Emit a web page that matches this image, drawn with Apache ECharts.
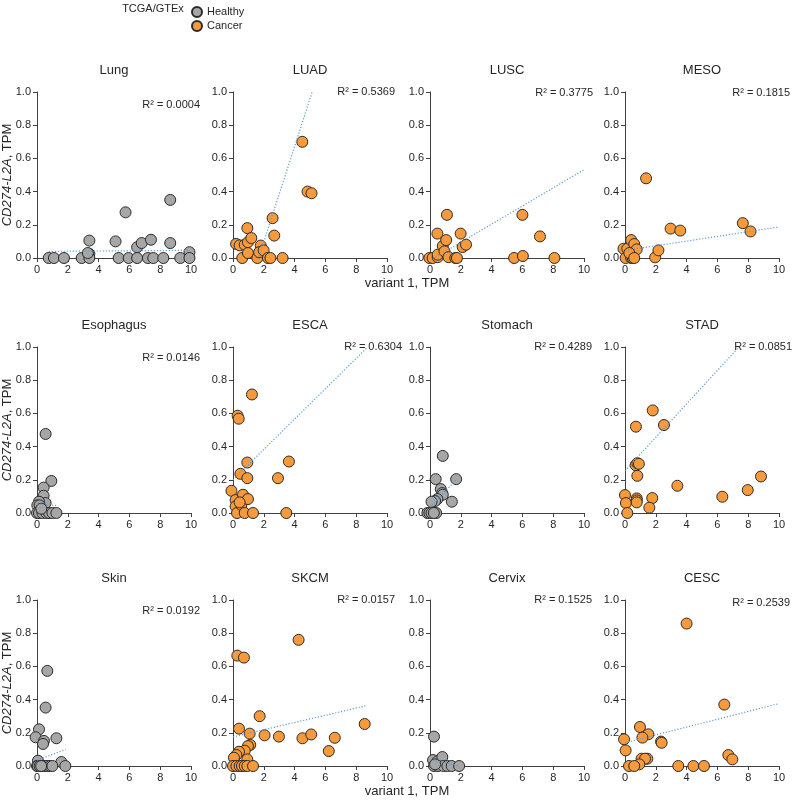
<!DOCTYPE html>
<html>
<head>
<meta charset="utf-8">
<script src="https://cdn.jsdelivr.net/npm/echarts@6/dist/echarts.min.js"></script>
</head>
<body style="margin:0;">
<div id="main" style="width:793px;height:802px;"></div>
<script>
// panel names, R² texts, which panels are tumour samples
var panelNames = ['Lung', 'LUAD', 'LUSC', 'MESO', 'Esophagus', 'ESCA', 'Stomach', 'STAD', 'Skin', 'SKCM', 'Cervix', 'CESC'];
var rSquared = ['0.0004', '0.5369', '0.3775', '0.1815', '0.0146', '0.6304', '0.4289', '0.0851', '0.0192', '0.0157', '0.1525', '0.2539'];
var isCancer = [false, true, true, true, false, true, false, true, false, true, false, true];
var xTicks = [0, 2, 4, 6, 8, 10];
var yTicks = [0, 0.2, 0.4, 0.6, 0.8, 1.0];

// [variant 1 TPM, CD274-L2A TPM]
var lung = [[0.76,0],[1.1,0],[1.75,0],[2.9,0],[3.4,0.025],[3.4,0],[3.4,0.105],[3.3,0.03],[5.1,0.1],[5.3,0],[5.75,0.275],[5.95,0],[6.5,0.065],[6.5,0],[6.8,0.09],[7.2,0],[7.4,0.11],[7.55,0],[8.2,0],[8.65,0.35],[8.65,0.09],[9.3,0],[9.9,0.035],[9.9,0]];
var luad = [[0.2,0.085],[0.43,0.076],[0.6,0],[0.76,0.08],[0.93,0.18],[0.97,0.095],[0.97,0.03],[1.19,0.12],[1.58,0],[1.8,0.075],[1.7,0.035],[1.99,0.046],[2.27,0],[2.43,0],[2.57,0.24],[2.68,0.135],[3.22,0],[4.5,0.7],[4.84,0.4],[5.1,0.39]];
var lusc = [[-0.04,0],[0.17,0],[0.5,0.005],[0.48,0.147],[0.5,0.02],[0.83,0.072],[1.05,0.108],[1.1,0.26],[0.94,0.04],[1.2,0.005],[1.64,0],[1.75,0],[1.99,0.147],[2.12,0.066],[2.34,0.08],[5.46,0],[6.0,0.26],[6.03,0.012],[7.14,0.13],[8.08,0]];
var meso = [[-0.1,0.056],[0.04,0],[0.15,0.056],[0.4,0.108],[0.4,0],[0.5,0],[0.6,0.084],[0.76,0.052],[0.28,0.03],[0.6,0],[1.37,0.48],[1.96,0.004],[2.17,0.046],[2.96,0.177],[3.59,0.165],[7.65,0.21],[8.15,0.16]];
var esophagus = [[0.56,0.476],[0.93,0.193],[0.43,0.153],[0.43,0.104],[0.56,0.06],[0.13,0.068],[0.02,0.046],[0.17,0.046],[0,0],[0.13,0],[0.35,0],[0.6,0],[0.78,0],[1.0,0],[1.26,0],[0.28,0.026]];
var esca = [[-0.1,0.134],[0.17,0.078],[0.17,0.04],[0.26,0],[0.3,0.586],[0.37,0.568],[0.48,0.236],[0.54,0.048],[0.65,0.11],[0.76,0],[0.93,0.304],[0.93,0.21],[0.97,0.084],[1.23,0.714],[1.3,0],[2.92,0.21],[3.46,0],[3.63,0.31],[0.43,0.064]];
var stomach = [[0.83,0.344],[0.37,0.204],[1.7,0.204],[0.7,0.144],[0.79,0.12],[0.83,0.11],[0.48,0.084],[0.33,0.072],[0.1,0.068],[1.42,0.068],[-0.17,0],[-0.04,0],[0.1,0],[0.4,0],[0.25,0]];
var stad = [[0,0.108],[0.06,0.06],[0.15,0],[0.71,0.52],[0.69,0.288],[0.8,0.3],[0.9,0.296],[0.8,0.224],[0.76,0.088],[0.76,0.076],[0.76,0.064],[1.8,0.618],[1.77,0.09],[1.58,0.032],[2.53,0.53],[3.4,0.164],[6.32,0.098],[7.97,0.138],[8.83,0.22]];
var skin = [[0.67,0.573],[0.56,0.352],[0.13,0.221],[-0.09,0.173],[0.45,0.151],[0.39,0.133],[1.26,0.167],[1.58,0.024],[1.84,0],[0.06,0.032],[0,0],[0.05,0],[0.17,0],[0.35,0],[0.52,0],[0.71,0],[0.86,0],[1.0,0],[0.27,0]];
var skcm = [[4.26,0.76],[0.28,0.665],[0.71,0.653],[1.73,0.3],[0.39,0.225],[1.08,0.195],[2.05,0.185],[2.98,0.177],[4.51,0.167],[5.08,0.19],[6.61,0.17],[6.22,0.09],[8.55,0.253],[1.12,0.127],[0.97,0.12],[0.76,0.092],[0.39,0.086],[0.22,0.066],[0.06,0.05],[0.93,0.04],[0,0],[0.22,0],[0.43,0],[0.58,0],[0.76,0],[0.93,0],[1.3,0]];
var cervix = [[0.26,0.177],[0.2,0.036],[0.48,0.028],[0.8,0.054],[0.26,0],[0.52,0],[0.87,0],[1.13,0],[1.41,0],[1.89,0],[0.33,0.01]];
var cesc = [[4.0,0.858],[6.45,0.37],[0.97,0.235],[1.52,0.191],[1.13,0.171],[-0.06,0.161],[0.04,0.094],[2.34,0.147],[2.38,0.14],[6.71,0.066],[6.97,0.04],[1.08,0.044],[1.45,0.044],[1.3,0.044],[0.93,0.01],[0.26,0],[0.6,0],[3.46,0],[4.44,0],[5.13,0]];

// linear trendline ends
var lungTrend = [[0.76,0.040],[9.9,0.046]];
var luadTrend = [[0.2,-0.42],[5.14,1.0]];
var luscTrend = [[0,-0.015],[10,0.532]];
var mesoTrend = [[0,0.045],[10,0.187]];
var esophagusTrend = [[0,0.055],[1.26,0.045]];
var escaTrend = [[0,0.2],[8.75,1.0]];
var stomachTrend = [[0,0.034],[1.7,0.2]];
var stadTrend = [[0,0.254],[7.4,1.0]];
var skinTrend = [[0,0.035],[1.86,0.10]];
var skcmTrend = [[0,0.175],[8.6,0.362]];
var cervixTrend = [[0.2,0.035],[1.89,0.0]];
var cescTrend = [[0,0.14],[10,0.376]];

var points = [lung, luad, lusc, meso, esophagus, esca, stomach, stad, skin, skcm, cervix, cesc];
var trends = [lungTrend, luadTrend, luscTrend, mesoTrend, esophagusTrend, escaTrend, stomachTrend, stadTrend, skinTrend, skcmTrend, cervixTrend, cescTrend];

// layout
var colLeft = [37, 233, 430, 625];
var rowTop = [92, 347, 600];
var plotW = 154, plotH = 166;
var rLabel = [[200,105],[395,92],[593,93],[790,93],[200,358],[402,347],[592,347],[792,347],[200,611],[395,600],[592,600],[790,603]];

var FONT = 'Liberation Sans, Arial, sans-serif';
var TXT = '#262626';
var AX = '#404040';

var grid = [], xAxis = [], yAxis = [], series = [], graphic = [];
for (var i = 0; i < 12; i++) {
    var c = i % 4, r = Math.floor(i / 4);
    grid.push({left: colLeft[c], top: rowTop[r], width: plotW, height: plotH});
    xAxis.push({
        gridIndex: i, type: 'value', min: xTicks[0], max: xTicks[xTicks.length - 1], interval: 2,
        axisLine: {lineStyle: {color: AX}}, axisTick: {length: 4, lineStyle: {color: AX}},
        axisLabel: {color: TXT, fontSize: 11, fontFamily: FONT, margin: 6},
        splitLine: {show: false}
    });
    yAxis.push({
        gridIndex: i, type: 'value', min: yTicks[0], max: yTicks[yTicks.length - 1], interval: 0.2,
        axisLine: {show: true, lineStyle: {color: AX}}, axisTick: {show: true, length: 4, lineStyle: {color: AX}},
        axisLabel: {color: TXT, fontSize: 11, fontFamily: FONT, margin: 6, formatter: function (v) { return v.toFixed(1); }},
        splitLine: {show: false}
    });
    series.push({
        name: isCancer[i] ? 'Cancer' : 'Healthy', type: 'scatter', xAxisIndex: i, yAxisIndex: i,
        data: points[i], symbolSize: 11, clip: false, z: 2,
        itemStyle: {color: isCancer[i] ? '#F79A3C' : '#A6A6A6', borderColor: '#2b2b2b', borderWidth: 1, opacity: 1}
    });
    series.push({
        name: 'trend', type: 'line', xAxisIndex: i, yAxisIndex: i, data: trends[i],
        symbol: 'none', clip: true, z: 3, silent: true,
        lineStyle: {color: '#5B9BD5', width: 1.2, type: [1.2, 1.8]}
    });
    graphic.push({type: 'text', x: colLeft[c] + plotW / 2, y: rowTop[r] - 22,
        style: {text: panelNames[i], fill: TXT, fontSize: 13, fontFamily: FONT, align: 'center', verticalAlign: 'middle'}});
    graphic.push({type: 'text', x: rLabel[i][0], y: rLabel[i][1],
        style: {text: 'R\u00b2 = ' + rSquared[i], fill: TXT, fontSize: 11, fontFamily: FONT, align: 'right', verticalAlign: 'middle'}});
    if (c === 0) {
        graphic.push({type: 'text', x: 7, y: rowTop[r] + plotH / 2, rotation: Math.PI / 2,
            style: {text: '{i|CD274-L2A}, TPM', fill: TXT, fontSize: 13, fontFamily: FONT, align: 'center', verticalAlign: 'middle',
                rich: {i: {fontStyle: 'italic', fontSize: 13, fontFamily: FONT, fill: TXT}}}});
    }
}
// x-axis names, rows 1 and 3
[0, 2].forEach(function (r) {
    graphic.push({type: 'text', x: 407, y: rowTop[r] + plotH + 25,
        style: {text: 'variant 1, TPM', fill: TXT, fontSize: 13, fontFamily: FONT, align: 'center', verticalAlign: 'middle'}});
});
graphic.push({type: 'text', x: 153, y: 9,
    style: {text: 'TCGA/GTEx', fill: TXT, fontSize: 11, fontFamily: FONT, align: 'center', verticalAlign: 'middle'}});

var myChart = echarts.init(document.getElementById('main'));
myChart.setOption({
    animation: false,
    legend: {
        left: 186, top: 1, orient: 'vertical', itemWidth: 10, itemHeight: 10, itemGap: 2,
        textStyle: {fontSize: 11, fontFamily: FONT, color: TXT},
        data: [{name: 'Healthy', icon: 'circle'}, {name: 'Cancer', icon: 'circle'}]
    },
    grid: grid, xAxis: xAxis, yAxis: yAxis, series: series, graphic: graphic
});
</script>
</body>
</html>
